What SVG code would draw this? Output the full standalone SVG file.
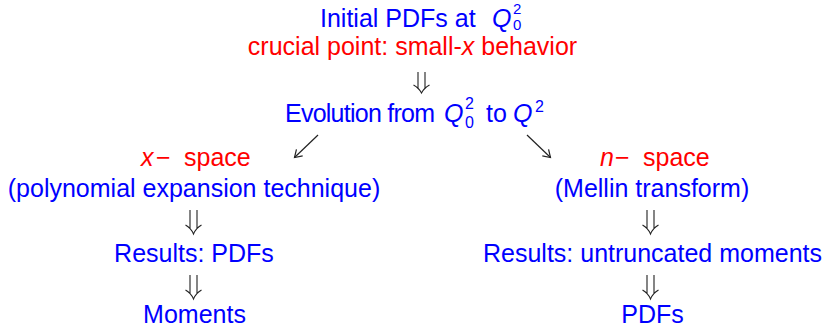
<svg xmlns="http://www.w3.org/2000/svg" width="826" height="328" viewBox="0 0 826 328">
<style>
text { font-family: "Liberation Sans", Arial, sans-serif; font-size: 25px; }
.b { fill: #0000ff; }
.r { fill: #ff0000; }
.it { font-style: italic; }
.sm { font-size: 16px; }
.sb { font-size: 15px; }
.c { text-anchor: middle; }
.dd { fill: none; stroke: #222; stroke-width: 1.1; }
.ar { fill: none; stroke: #222; stroke-width: 1.2; }
</style>
<defs>
<marker id="head" markerUnits="userSpaceOnUse" markerWidth="14" markerHeight="14" refX="0" refY="0" viewBox="-8 -7 10 14" orient="auto" overflow="visible">
<path d="M-7,-4.5 L0,0 L-7,4.5" fill="none" stroke="#222" stroke-width="1.2"/>
</marker>
</defs>
<rect width="826" height="328" fill="#ffffff"/>
<g id="connectors">
<path class="dd" d="M418,72 V89 M425,72 V89 M413.5,85 Q419,88 421.5,93 Q424,88 429.5,85"/>
<line class="ar" x1="318" y1="135" x2="294.5" y2="157.5" marker-end="url(#head)"/>
<line class="ar" x1="527" y1="135" x2="550.5" y2="157.5" marker-end="url(#head)"/>
<path class="dd" d="M190,210 V229 M197,210 V229 M185.5,225 Q191,228 193.5,234 Q196,228 201.5,225"/>
<path class="dd" d="M190,275 V294 M197,275 V294 M185.5,290 Q191,293 193.5,299 Q196,293 201.5,290"/>
<path class="dd" d="M647,210 V229 M654,210 V229 M642.5,225 Q648,228 650.5,234 Q653,228 658.5,225"/>
<path class="dd" d="M647,275 V294 M654,275 V294 M642.5,290 Q648,293 650.5,299 Q653,293 658.5,290"/>
</g>
<g id="initial">
<text class="b"><tspan x="320" y="27">Initial PDFs at</tspan><tspan class="it" x="492" y="27">Q</tspan><tspan class="sb" x="513" y="14">2</tspan><tspan class="sb" x="513" y="29.5">0</tspan></text>
<text class="r c" x="412.5" y="55">crucial point: small-<tspan class="it">x</tspan> behavior</text>
</g>
<g id="evolution">
<text class="b"><tspan x="285" y="122" textLength="150" lengthAdjust="spacing">Evolution from</tspan><tspan class="it" x="444" y="122">Q</tspan><tspan class="sm" x="465" y="109">2</tspan><tspan class="sm" x="465" y="128">0</tspan><tspan x="486" y="122">to</tspan><tspan class="it" x="513" y="122">Q</tspan><tspan class="sm" x="535" y="112">2</tspan></text>
</g>
<g id="xspace">
<text class="r" y="166"><tspan class="it" x="141">x</tspan><tspan x="156">−</tspan><tspan x="184">space</tspan></text>
<text class="b c" x="194" y="197">(polynomial expansion technique)</text>
</g>
<g id="x-results">
<text class="b c" x="194" y="262">Results: PDFs</text>
</g>
<g id="x-moments">
<text class="b c" x="194.5" y="323">Moments</text>
</g>
<g id="nspace">
<text class="r" y="166"><tspan class="it" x="600">n</tspan><tspan x="615">−</tspan><tspan x="643">space</tspan></text>
<text class="b c" x="652" y="197">(Mellin transform)</text>
</g>
<g id="n-results">
<text class="b c" x="652.5" y="262">Results: untruncated moments</text>
</g>
<g id="n-pdfs">
<text class="b c" x="652.5" y="323">PDFs</text>
</g>
</svg>
